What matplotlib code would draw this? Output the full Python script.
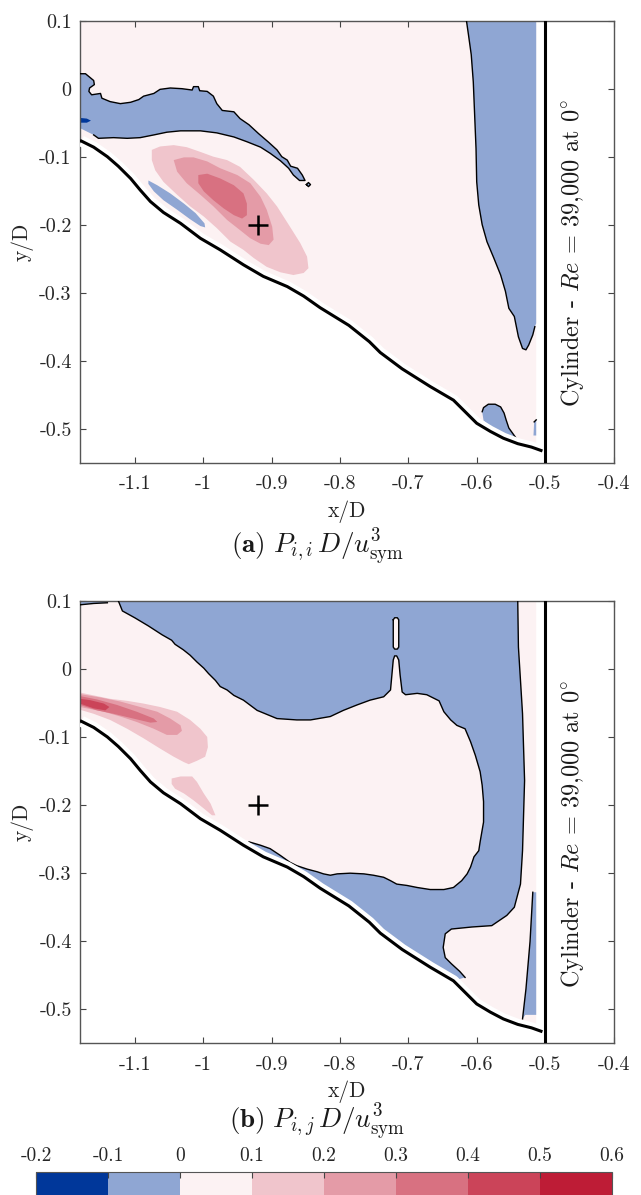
import numpy as np
import matplotlib.pyplot as plt
from matplotlib.colors import ListedColormap, BoundaryNorm
from matplotlib.cm import ScalarMappable

plt.rcParams['font.family'] = 'serif'
plt.rcParams['font.serif'] = ['cmr10']
plt.rcParams['mathtext.fontset'] = 'cm'
plt.rcParams['axes.unicode_minus'] = False
plt.rcParams['axes.formatter.use_mathtext'] = True

# colour levels of the contour map
levels = [-0.2, -0.1, 0, 0.1, 0.2, 0.3, 0.4, 0.5, 0.6]
level_labels = ['-0.2', '-0.1', '0', '0.1', '0.2', '0.3', '0.4', '0.5', '0.6']
level_colors = ['#00379a', '#8fa6d3', '#fcf2f3', '#f0c5cc', '#e49ba7',
                '#d87181', '#cb4459', '#be1c36']

x_ticks = [-1.1, -1.0, -0.9, -0.8, -0.7, -0.6, -0.5, -0.4]
x_tick_labels = ['-1.1', '-1', '-0.9', '-0.8', '-0.7', '-0.6', '-0.5', '-0.4']
y_ticks = [0.1, 0.0, -0.1, -0.2, -0.3, -0.4, -0.5]
y_tick_labels = ['0.1', '0', '-0.1', '-0.2', '-0.3', '-0.4', '-0.5']

probe = (-0.92, -0.20)
cyl_edge = -0.5
data_edge = -0.513

# cylinder wall (same in both panels)
wall_x = [-1.178, -1.160, -1.140, -1.124, -1.106, -1.092, -1.077, -1.058, -1.033,
          -1.004, -0.975, -0.941, -0.912, -0.877, -0.853, -0.829, -0.787, -0.757,
          -0.741, -0.709, -0.668, -0.634, -0.619, -0.600, -0.580, -0.561, -0.540,
          -0.520, -0.506]
wall_y = [-0.077, -0.086, -0.100, -0.114, -0.132, -0.149, -0.166, -0.182, -0.198,
          -0.220, -0.237, -0.259, -0.276, -0.291, -0.305, -0.322, -0.348, -0.372,
          -0.388, -0.412, -0.438, -0.458, -0.473, -0.492, -0.504, -0.514, -0.522,
          -0.527, -0.532]

# ---- panel (a) regions ----
a_blue_band = np.array([
    (-1.179, 0.022), (-1.172, 0.022), (-1.160, 0.012), (-1.159, 0.006), (-1.166, 0.001),
    (-1.167, -0.004), (-1.163, -0.009), (-1.150, -0.007), (-1.148, -0.014), (-1.136, -0.019),
    (-1.121, -0.022), (-1.106, -0.020), (-1.094, -0.016), (-1.087, -0.011), (-1.072, -0.007),
    (-1.063, -0.001), (-1.048, 0.001), (-1.031, 0.000), (-1.016, -0.002), (-1.014, 0.003),
    (-1.007, 0.003), (-1.005, -0.003), (-0.994, -0.004), (-0.985, -0.011), (-0.980, -0.022),
    (-0.972, -0.032), (-0.955, -0.034), (-0.946, -0.044), (-0.933, -0.053), (-0.919, -0.066),
    (-0.904, -0.079), (-0.892, -0.090), (-0.885, -0.100), (-0.877, -0.105), (-0.872, -0.114),
    (-0.862, -0.117), (-0.855, -0.127), (-0.851, -0.135), (-0.859, -0.135), (-0.868, -0.127),
    (-0.875, -0.117), (-0.887, -0.106), (-0.902, -0.095), (-0.916, -0.086), (-0.936, -0.078),
    (-0.955, -0.071), (-0.980, -0.065), (-1.004, -0.062), (-1.033, -0.062), (-1.053, -0.064),
    (-1.072, -0.068), (-1.092, -0.072), (-1.111, -0.073), (-1.131, -0.072), (-1.153, -0.073),
    (-1.160, -0.068), (-1.180, -0.058), (-1.180, 0.022)])
a_blue_band_open = 2  # last points lie on the data edge, no contour line

a_blue_island = np.array([(-0.849, -0.141), (-0.846, -0.138), (-0.843, -0.141),
                          (-0.846, -0.144), (-0.849, -0.141)])

a_dark_spot = np.array([(-1.180, -0.043), (-1.170, -0.044), (-1.164, -0.047),
                        (-1.170, -0.050), (-1.180, -0.050)])

a_blue_sliver = np.array([
    (-1.080, -0.135), (-1.067, -0.142), (-1.048, -0.154), (-1.028, -0.169), (-1.011, -0.183),
    (-0.998, -0.198), (-0.997, -0.204), (-1.004, -0.202), (-1.019, -0.192), (-1.038, -0.178),
    (-1.058, -0.164), (-1.072, -0.151), (-1.080, -0.140)])

a_blue_strip = np.array([
    (-0.615, 0.100), (-0.612, 0.079), (-0.608, 0.050), (-0.605, 0.010), (-0.603, -0.039),
    (-0.601, -0.088), (-0.600, -0.137), (-0.597, -0.171), (-0.592, -0.200), (-0.585, -0.225),
    (-0.575, -0.249), (-0.565, -0.274), (-0.558, -0.298), (-0.553, -0.323), (-0.545, -0.335),
    (-0.539, -0.365), (-0.533, -0.382), (-0.528, -0.384), (-0.524, -0.377), (-0.518, -0.362),
    (-0.515, -0.350), (-0.513, -0.345), (-0.513, 0.100)])
a_blue_strip_open = 2

a_blue_foot = np.array([
    (-0.592, -0.475), (-0.590, -0.469), (-0.583, -0.464), (-0.573, -0.464), (-0.565, -0.468),
    (-0.560, -0.477), (-0.557, -0.487), (-0.553, -0.499), (-0.543, -0.513), (-0.555, -0.512),
    (-0.575, -0.500), (-0.590, -0.488)])
a_blue_foot_open = 3

a_blue_corner = np.array([(-0.516, -0.490), (-0.513, -0.487), (-0.513, -0.510),
                          (-0.517, -0.510)])
a_blue_corner_open = 2

a_pink_1 = np.array([
    (-1.075, -0.090), (-1.063, -0.085), (-1.043, -0.083), (-1.024, -0.086), (-1.004, -0.093),
    (-0.985, -0.100), (-0.965, -0.105), (-0.946, -0.115), (-0.926, -0.134), (-0.907, -0.154),
    (-0.892, -0.173), (-0.873, -0.203), (-0.858, -0.227), (-0.848, -0.247), (-0.846, -0.264),
    (-0.853, -0.271), (-0.868, -0.274), (-0.887, -0.270), (-0.907, -0.262), (-0.926, -0.249),
    (-0.941, -0.237), (-0.960, -0.225), (-0.980, -0.205), (-0.999, -0.188), (-1.019, -0.173),
    (-1.038, -0.156), (-1.058, -0.137), (-1.070, -0.120), (-1.075, -0.105)])
a_pink_2 = np.array([
    (-1.043, -0.105), (-1.028, -0.101), (-1.014, -0.101), (-0.994, -0.107), (-0.975, -0.117),
    (-0.950, -0.127), (-0.931, -0.139), (-0.916, -0.159), (-0.907, -0.178), (-0.899, -0.203),
    (-0.897, -0.222), (-0.904, -0.230), (-0.916, -0.228), (-0.931, -0.220), (-0.946, -0.208),
    (-0.965, -0.193), (-0.985, -0.173), (-1.004, -0.156), (-1.024, -0.139), (-1.038, -0.122)])
a_pink_3 = np.array([
    (-1.007, -0.127), (-0.994, -0.125), (-0.975, -0.132), (-0.955, -0.142), (-0.941, -0.154),
    (-0.936, -0.169), (-0.936, -0.186), (-0.943, -0.191), (-0.955, -0.186), (-0.970, -0.176),
    (-0.985, -0.164), (-0.999, -0.151), (-1.007, -0.139)])

# ---- panel (b) regions ----
b_blue_upper_line = [
    (-1.124, 0.100), (-1.118, 0.085), (-1.100, 0.075), (-1.080, 0.063), (-1.060, 0.050),
    (-1.046, 0.042), (-1.041, 0.036), (-1.029, 0.028), (-1.019, 0.020), (-1.009, 0.010),
    (-0.999, 0.001), (-0.992, -0.007), (-0.982, -0.017), (-0.975, -0.026), (-0.965, -0.031),
    (-0.955, -0.039), (-0.941, -0.046), (-0.921, -0.061), (-0.892, -0.073), (-0.863, -0.075),
    (-0.843, -0.075), (-0.814, -0.070), (-0.795, -0.061), (-0.775, -0.053), (-0.756, -0.046),
    (-0.736, -0.041), (-0.726, -0.031), (-0.724, -0.009), (-0.722, 0.013), (-0.720, 0.019),
    (-0.717, 0.019), (-0.714, 0.013), (-0.712, -0.009), (-0.709, -0.034), (-0.704, -0.038),
    (-0.687, -0.036), (-0.673, -0.038), (-0.655, -0.047), (-0.648, -0.063), (-0.638, -0.075),
    (-0.629, -0.083), (-0.617, -0.088), (-0.609, -0.107), (-0.602, -0.127), (-0.595, -0.151),
    (-0.592, -0.171), (-0.590, -0.195), (-0.590, -0.225), (-0.595, -0.254), (-0.597, -0.267),
    (-0.604, -0.276), (-0.609, -0.291), (-0.614, -0.301), (-0.622, -0.311), (-0.634, -0.321),
    (-0.648, -0.324), (-0.668, -0.324), (-0.687, -0.321), (-0.702, -0.318), (-0.717, -0.316),
    (-0.726, -0.311), (-0.736, -0.306), (-0.751, -0.303), (-0.765, -0.301), (-0.785, -0.300),
    (-0.804, -0.301), (-0.814, -0.303), (-0.824, -0.301), (-0.833, -0.298), (-0.848, -0.294),
    (-0.863, -0.289), (-0.873, -0.284), (-0.887, -0.274), (-0.902, -0.264), (-0.916, -0.259),
    (-0.933, -0.254)]
b_blue_wall_side = [
    (-0.937, -0.262), (-0.912, -0.276), (-0.877, -0.291), (-0.853, -0.305), (-0.829, -0.322),
    (-0.787, -0.348), (-0.757, -0.372), (-0.741, -0.388), (-0.709, -0.412), (-0.668, -0.438),
    (-0.634, -0.458)]
b_blue_right_line = [
    (-0.617, -0.453), (-0.625, -0.444), (-0.637, -0.433), (-0.646, -0.424), (-0.649, -0.409),
    (-0.646, -0.389), (-0.637, -0.382), (-0.607, -0.379), (-0.578, -0.377), (-0.556, -0.362),
    (-0.545, -0.350), (-0.536, -0.316), (-0.533, -0.267), (-0.530, -0.164), (-0.533, -0.066),
    (-0.539, 0.032), (-0.540, 0.100)]

b_slot = np.array([(-0.722, 0.072), (-0.720, 0.075), (-0.716, 0.075), (-0.714, 0.072),
                   (-0.714, 0.032), (-0.716, 0.029), (-0.720, 0.029), (-0.722, 0.032),
                   (-0.722, 0.072)])

b_blue_corner = np.array([(-1.180, 0.094), (-1.160, 0.096), (-1.140, 0.097),
                          (-1.136, 0.100), (-1.180, 0.100)])
b_blue_corner_open = 2

b_blue_needle = np.array([(-0.518, -0.328), (-0.522, -0.400), (-0.528, -0.470),
                          (-0.533, -0.514), (-0.529, -0.508), (-0.513, -0.508),
                          (-0.513, -0.328)])
b_blue_needle_open = 3

b_pink_1 = np.array([
    (-1.179, -0.035), (-1.160, -0.039), (-1.136, -0.044), (-1.111, -0.047), (-1.087, -0.051),
    (-1.063, -0.056), (-1.038, -0.063), (-1.019, -0.075), (-1.004, -0.088), (-0.994, -0.100),
    (-0.993, -0.115), (-0.997, -0.129), (-1.009, -0.135), (-1.021, -0.140), (-1.028, -0.137),
    (-1.043, -0.129), (-1.063, -0.117), (-1.087, -0.102), (-1.111, -0.088), (-1.136, -0.075),
    (-1.160, -0.066), (-1.180, -0.060)])
b_pink_1b = np.array([
    (-1.046, -0.161), (-1.033, -0.158), (-1.016, -0.158), (-1.009, -0.166), (-0.999, -0.183),
    (-0.989, -0.198), (-0.982, -0.215), (-0.987, -0.215), (-0.999, -0.205), (-1.014, -0.193),
    (-1.028, -0.183), (-1.041, -0.176), (-1.046, -0.169)])
b_pink_2 = np.array([
    (-1.180, -0.037), (-1.150, -0.042), (-1.121, -0.048), (-1.092, -0.056), (-1.067, -0.063),
    (-1.048, -0.073), (-1.033, -0.083), (-1.031, -0.091), (-1.038, -0.097), (-1.053, -0.097),
    (-1.072, -0.088), (-1.097, -0.078), (-1.121, -0.070), (-1.145, -0.063), (-1.180, -0.056)])
b_pink_3 = np.array([
    (-1.180, -0.040), (-1.155, -0.045), (-1.126, -0.053), (-1.097, -0.063), (-1.072, -0.073),
    (-1.067, -0.078), (-1.077, -0.079), (-1.102, -0.073), (-1.131, -0.066), (-1.155, -0.061),
    (-1.180, -0.053)])
b_pink_4 = np.array([
    (-1.180, -0.044), (-1.165, -0.046), (-1.145, -0.051), (-1.137, -0.056), (-1.143, -0.061),
    (-1.160, -0.058), (-1.180, -0.051)])

cmap = ListedColormap(level_colors)
norm = BoundaryNorm(levels, cmap.N)


def shade(v):
    return cmap(norm(v))


def region(ax, pts, value, open_tail=None, outline=True):
    pts = np.asarray(pts)
    ax.fill(pts[:, 0], pts[:, 1], color=shade(value), lw=0, zorder=2)
    if outline:
        line = pts if open_tail is None else pts[:-open_tail]
        ax.plot(line[:, 0], line[:, 1], color='k', lw=1.0, zorder=4)


def domain(ax):
    dx = [-1.180, data_edge, data_edge] + wall_x[-3::-1] + [-1.180]
    dy = [0.1, 0.1, -0.528] + wall_y[-3::-1] + [-0.077]
    ax.fill(dx, dy, color=shade(0.05), lw=0, zorder=1)


def frame(ax, label, title_y):
    ax.set_xlim(-1.18, -0.4)
    ax.set_ylim(-0.55, 0.1)
    ax.set_xticks(x_ticks)
    ax.set_xticklabels(x_tick_labels)
    ax.set_yticks(y_ticks)
    ax.set_yticklabels(y_tick_labels)
    ax.tick_params(direction='in', length=4, width=0.8, top=True, right=True,
                   labelsize=14.5, colors='#444444', labelcolor='#262626')
    ax.tick_params(axis='x', pad=9)
    ax.tick_params(axis='y', pad=6)
    for s in ax.spines.values():
        s.set_color('#555555')
        s.set_linewidth(1.0)
    ax.set_xlabel('x/D', fontsize=15.5, color='#262626', labelpad=5)
    ax.set_ylabel('y/D', fontsize=15.5, color='#262626', labelpad=4)
    # wall, with a thin white gap above it
    ax.plot(wall_x, wall_y, color='white', lw=8, solid_capstyle='butt', zorder=5)
    ax.plot(wall_x, wall_y, color='k', lw=2.2, zorder=6)
    ax.axvline(cyl_edge, color='k', lw=2.2, zorder=6)
    ax.plot(*probe, marker='+', color='k', ms=15, mew=1.8, zorder=7)
    ax.text(-0.46, -0.242, r'Cylinder - $Re$ = 39,000 at 0$^{\circ}$', rotation=90,
            ha='center', va='center', fontsize=17.5, color='#1a1a1a')
    ax.figure.text(0.495, title_y, label, ha='center', va='center',
                   fontsize=19.5, color='#1a1a1a')


fig = plt.figure(figsize=(6.41, 11.95), dpi=100)
ax_a = fig.add_axes([0.1248, 0.6128, 0.8323, 0.3699])
ax_b = fig.add_axes([0.1248, 0.1268, 0.8323, 0.3705])

# panel (a)
domain(ax_a)
region(ax_a, a_blue_band, -0.05, open_tail=a_blue_band_open)
region(ax_a, a_blue_island, -0.05)
region(ax_a, a_dark_spot, -0.15, outline=False)
region(ax_a, a_blue_sliver, -0.05, outline=False)
region(ax_a, a_blue_strip, -0.05, open_tail=a_blue_strip_open)
region(ax_a, a_blue_foot, -0.05, open_tail=a_blue_foot_open)
region(ax_a, a_blue_corner, -0.05, open_tail=a_blue_corner_open)
region(ax_a, a_pink_1, 0.15, outline=False)
region(ax_a, a_pink_2, 0.25, outline=False)
region(ax_a, a_pink_3, 0.35, outline=False)
frame(ax_a, r'$\mathbf{(a)}\ P_{i,i}\,D/u^3_{\mathrm{sym}}$', 0.542)

# panel (b)
domain(ax_b)
b_blue = np.array(b_blue_upper_line + b_blue_wall_side + b_blue_right_line)
region(ax_b, b_blue, -0.05, outline=False)
for seg in (b_blue_upper_line, b_blue_right_line):
    seg = np.array(seg)
    ax_b.plot(seg[:, 0], seg[:, 1], color='k', lw=1.0, zorder=4)
region(ax_b, b_slot, 0.05)
region(ax_b, b_blue_corner, -0.05, open_tail=b_blue_corner_open)
region(ax_b, b_blue_needle, -0.05, open_tail=b_blue_needle_open)
region(ax_b, b_pink_1, 0.15, outline=False)
region(ax_b, b_pink_1b, 0.15, outline=False)
region(ax_b, b_pink_2, 0.25, outline=False)
region(ax_b, b_pink_3, 0.35, outline=False)
region(ax_b, b_pink_4, 0.45, outline=False)
frame(ax_b, r'$\mathbf{(b)}\ P_{i,j}\,D/u^3_{\mathrm{sym}}$', 0.0605)

# colour bar
cax = fig.add_axes([0.0562, -0.02, 0.8986, 0.0392])
sm = ScalarMappable(norm=norm, cmap=cmap)
cb = fig.colorbar(sm, cax=cax, orientation='horizontal', ticks=levels)
cb.ax.xaxis.set_ticks_position('top')
cb.ax.xaxis.set_label_position('top')
cb.ax.set_xticklabels(level_labels)
cb.ax.tick_params(direction='in', length=4, width=0.8, labelsize=14,
                  colors='#444444', labelcolor='#262626', pad=5)
cb.outline.set_edgecolor('#555555')

fig.savefig('out.png', dpi=100)
